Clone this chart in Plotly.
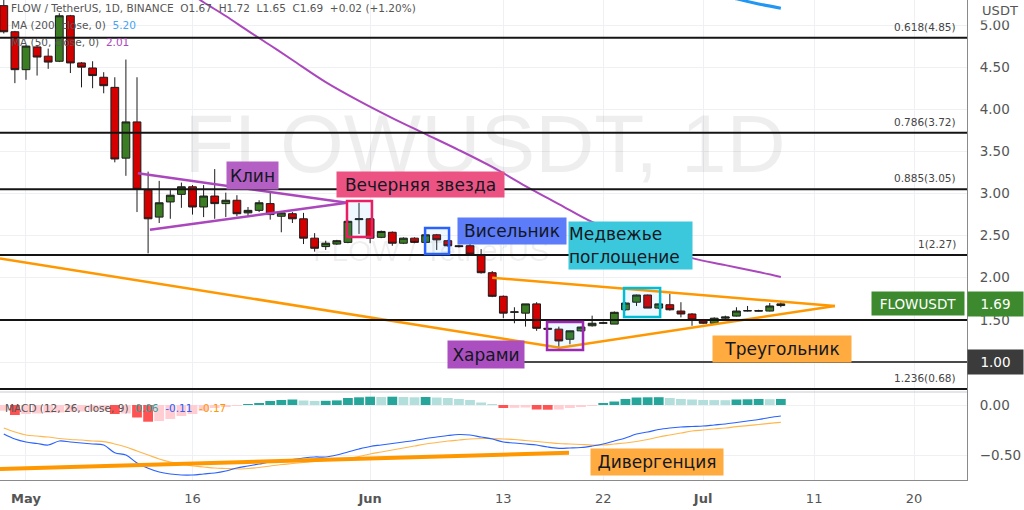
import plotly.graph_objects as go
from plotly.subplots import make_subplots
import pandas as pd

# ---------------- data ----------------
dates = pd.date_range("2021-04-29", "2021-07-08", freq="D")  # 71 daily candles

opens = [5.23, 4.92, 4.47, 4.74, 4.63, 4.57, 5.11, 4.55, 4.49, 4.38,
         4.26, 3.42, 3.85, 3.04, 2.72, 2.90, 2.99, 3.08, 2.84, 2.97,
         2.88, 2.92, 2.77, 2.80, 2.88, 2.73, 2.76, 2.70, 2.47, 2.37,
         2.40, 2.42, 2.69, 2.70, 2.48, 2.54, 2.41, 2.47, 2.42, 2.51,
         2.44, 2.38, 2.38, 2.27, 2.06, 1.78, 1.59, 1.58, 1.69, 1.40,
         1.39, 1.27, 1.37, 1.43, 1.46, 1.45, 1.62, 1.71, 1.795, 1.64,
         1.68, 1.605, 1.57, 1.49, 1.46, 1.52, 1.545, 1.605, 1.61, 1.605, 1.67]
highs = [5.30, 4.93, 4.76, 4.75, 4.72, 5.14, 5.12, 4.56, 4.57, 4.44,
         4.38, 4.59, 4.38, 3.26, 3.15, 3.04, 3.13, 3.10, 3.10, 3.29,
         3.01, 2.98, 2.84, 2.92, 3.01, 2.79, 2.78, 2.77, 2.53, 2.44,
         2.45, 2.68, 2.89, 2.71, 2.56, 2.55, 2.48, 2.48, 2.51, 2.52,
         2.45, 2.39, 2.42, 2.34, 2.08, 1.79, 1.65, 1.69, 1.71, 1.41,
         1.42, 1.37, 1.42, 1.55, 1.48, 1.60, 1.71, 1.80, 1.80, 1.69,
         1.81, 1.71, 1.58, 1.50, 1.53, 1.55, 1.65, 1.665, 1.62, 1.70, 1.72]
lows = [4.90, 4.31, 4.35, 4.40, 4.48, 4.56, 4.43, 4.26, 4.25, 4.19,
        3.37, 3.21, 2.78, 2.29, 2.65, 2.70, 2.83, 2.75, 2.72, 2.70,
        2.72, 2.73, 2.72, 2.78, 2.69, 2.54, 2.65, 2.40, 2.31, 2.33,
        2.39, 2.41, 2.52, 2.41, 2.47, 2.38, 2.40, 2.41, 2.41, 2.33,
        2.37, 2.36, 2.28, 2.05, 1.77, 1.52, 1.46, 1.42, 1.37, 1.385,
        1.15, 1.21, 1.36, 1.42, 1.45, 1.45, 1.61, 1.665, 1.64, 1.63,
        1.61, 1.53, 1.43, 1.45, 1.45, 1.51, 1.54, 1.60, 1.60, 1.60, 1.65]
closes = [4.92, 4.47, 4.75, 4.62, 4.56, 5.11, 4.55, 4.50, 4.40, 4.28,
          3.41, 3.85, 3.05, 2.70, 2.89, 2.98, 3.08, 2.84, 2.97, 2.88,
          2.92, 2.76, 2.80, 2.89, 2.75, 2.77, 2.70, 2.47, 2.35, 2.41,
          2.44, 2.67, 2.70, 2.47, 2.55, 2.41, 2.47, 2.42, 2.51, 2.45,
          2.38, 2.37, 2.28, 2.06, 1.78, 1.58, 1.595, 1.69, 1.40, 1.39,
          1.25, 1.37, 1.415, 1.46, 1.465, 1.59, 1.70, 1.795, 1.64, 1.69,
          1.62, 1.57, 1.50, 1.46, 1.52, 1.535, 1.605, 1.61, 1.605, 1.665, 1.69]

ma50_dates = ["2021-05-16", "2021-05-17", "2021-05-19", "2021-05-21", "2021-05-23",
              "2021-05-25", "2021-05-28", "2021-05-31", "2021-06-03", "2021-06-06",
              "2021-06-09", "2021-06-12", "2021-06-15", "2021-06-18", "2021-06-21",
              "2021-06-24", "2021-06-27", "2021-06-30", "2021-07-03", "2021-07-06",
              "2021-07-08"]
ma50_vals = [5.36, 5.27, 5.107, 4.93, 4.76, 4.585, 4.323, 4.10, 3.896, 3.706,
             3.516, 3.315, 3.089, 2.875, 2.662, 2.51, 2.353, 2.233, 2.15, 2.068, 2.01]

ma200_dates = ["2021-06-30", "2021-07-02", "2021-07-04", "2021-07-06", "2021-07-08"]
ma200_vals = [5.45, 5.38, 5.31, 5.25, 5.20]

macd_vals = [-0.29, -0.34, -0.37, -0.385, -0.40, -0.36, -0.37, -0.38, -0.39, -0.40,
             -0.477, -0.50, -0.58, -0.633, -0.67, -0.69, -0.70, -0.70, -0.69, -0.68,
             -0.66, -0.63, -0.61, -0.59, -0.57, -0.56, -0.545, -0.53, -0.52, -0.52,
             -0.50, -0.47, -0.44, -0.415, -0.40, -0.385, -0.37, -0.355, -0.335, -0.32,
             -0.305, -0.295, -0.30, -0.32, -0.34, -0.37, -0.38, -0.39, -0.40, -0.42,
             -0.433, -0.43, -0.425, -0.41, -0.39, -0.36, -0.33, -0.29, -0.27, -0.245,
             -0.23, -0.22, -0.215, -0.21, -0.20, -0.19, -0.175, -0.16, -0.145, -0.125, -0.11]
signal_vals = [-0.23, -0.27, -0.30, -0.31, -0.32, -0.335, -0.345, -0.35, -0.36, -0.367,
               -0.39, -0.42, -0.46, -0.50, -0.54, -0.57, -0.59, -0.61, -0.62, -0.63,
               -0.635, -0.64, -0.635, -0.625, -0.61, -0.595, -0.585, -0.575, -0.565, -0.555,
               -0.55, -0.535, -0.515, -0.49, -0.47, -0.45, -0.43, -0.41, -0.39, -0.375,
               -0.36, -0.35, -0.34, -0.335, -0.335, -0.34, -0.345, -0.355, -0.365, -0.375,
               -0.385, -0.39, -0.395, -0.40, -0.40, -0.39, -0.38, -0.365, -0.345, -0.32,
               -0.30, -0.28, -0.26, -0.25, -0.24, -0.23, -0.217, -0.207, -0.195, -0.183, -0.173]
hist_vals = [-0.057, -0.10, -0.09, -0.085, -0.08, -0.075, -0.07, -0.065, -0.06, -0.055,
             -0.09, -0.085, -0.125, -0.167, -0.16, -0.14, -0.11, -0.09, -0.06, -0.03,
             -0.015, -0.005, 0.004, 0.02, 0.04, 0.05, 0.055, 0.045, 0.04, 0.042,
             0.046, 0.07, 0.077, 0.083, 0.08, 0.083, 0.08, 0.077, 0.08, 0.075,
             0.07, 0.06, 0.05, 0.025, 0.003, -0.03, -0.028, -0.025, -0.045, -0.047,
             -0.045, -0.03, -0.02, -0.005, 0.02, 0.035, 0.06, 0.075, 0.077, 0.078,
             0.07, 0.06, 0.055, 0.05, 0.049, 0.048, 0.055, 0.057, 0.06, 0.058, 0.06]

price_ticks = [1.0, 1.5, 2.0, 2.5, 3.0, 3.5, 4.0, 4.5, 5.0]
macd_ticks = [0.0, -0.5]
date_ticks = ["2021-05-01", "2021-05-16", "2021-06-01", "2021-06-13",
              "2021-06-22", "2021-07-01", "2021-07-11", "2021-07-20"]
date_labels = ["<b>May</b>", "16", "<b>Jun</b>", "13", "22", "<b>Jul</b>", "11", "20"]

fib_levels = [4.85, 3.72, 3.05, 2.27, 0.68]
fib_names = ["0.618(4.85)", "0.786(3.72)", "0.885(3.05)", "1(2.27)", "1.236(0.68)"]
support_level = 1.50
round_level = 1.00
last_price = 1.69

# drawings (in data coordinates)
wedge_upper = (["2021-05-11 02:00", "2021-05-29 22:00"], [3.24, 2.89])
wedge_lower = (["2021-05-12 04:00", "2021-05-29 22:00"], [2.57, 2.89])
tri_lower = (["2021-04-28 15:48", "2021-06-18 02:30", "2021-07-12 21:00"], [2.23, 1.17, 1.665])
tri_upper = (["2021-06-12 00:00", "2021-07-12 21:00"], [2.00, 1.665])
diverg = (["2021-04-28 15:48", "2021-06-18 22:00"], [-0.64, -0.477])

X_RANGE = ["2021-04-28 15:48", "2021-07-24 18:29"]
Y_RANGE = [0.644, 5.297]
M_RANGE = [-0.75, 0.13]

# ---------------- figure ----------------
FONT = "DejaVu Sans"
GRID = "#eef0f4"
AXC = "#555555"
fig = make_subplots(rows=2, cols=1, shared_xaxes=True, vertical_spacing=0,
                    row_heights=[392, 88])

# watermark (drawn first so it sits beneath the candles)
fig.add_trace(go.Scatter(x=["2021-06-11 08:30"], y=[3.50], mode="text",
                         text=["FLOWUSDT, 1D"],
                         textfont=dict(size=82, color="rgba(0,0,0,0.065)", family="Liberation Sans"),
                         hoverinfo="skip", showlegend=False), row=1, col=1)
fig.add_trace(go.Scatter(x=["2021-06-06 12:00"], y=[2.29], mode="text",
                         text=["FLOW / TetherUS"],
                         textfont=dict(size=30, color="rgba(0,0,0,0.065)", family="Liberation Sans"),
                         hoverinfo="skip", showlegend=False), row=1, col=1)

fig.add_trace(go.Candlestick(
    x=dates, open=opens, high=highs, low=lows, close=closes,
    increasing=dict(line=dict(color="#1c1c1c", width=1), fillcolor="#3a7d22"),
    decreasing=dict(line=dict(color="#1c1c1c", width=1), fillcolor="#d40000"),
    whiskerwidth=0, hoverinfo="skip", showlegend=False), row=1, col=1)

fig.add_trace(go.Scatter(x=ma50_dates, y=ma50_vals, mode="lines",
                         line=dict(color="#ab47bc", width=2, shape="spline"),
                         hoverinfo="skip", showlegend=False), row=1, col=1)
fig.add_trace(go.Scatter(x=ma200_dates, y=ma200_vals, mode="lines",
                         line=dict(color="#2196f3", width=3, shape="spline"),
                         hoverinfo="skip", showlegend=False), row=1, col=1)

# trend drawings
for (xs, ys), col, w in [(wedge_upper, "#ab47bc", 2.5), (wedge_lower, "#ab47bc", 2.5),
                         (tri_lower, "#ff9800", 2.5), (tri_upper, "#ff9800", 2.5)]:
    fig.add_trace(go.Scatter(x=xs, y=ys, mode="lines", line=dict(color=col, width=w),
                             hoverinfo="skip", showlegend=False), row=1, col=1)

# MACD pane
hist_colors = []
for i, h in enumerate(hist_vals):
    prev = hist_vals[i - 1] if i > 0 else h
    if h >= 0:
        hist_colors.append("#26a69a" if h >= prev else "#b2dfdb")
    else:
        hist_colors.append("#ff5252" if h < prev else "#ffcdd2")
fig.add_trace(go.Bar(x=dates, y=hist_vals, marker=dict(color=hist_colors, line=dict(width=0)),
                     hoverinfo="skip", showlegend=False), row=2, col=1)
fig.add_trace(go.Scatter(x=dates, y=signal_vals, mode="lines",
                         line=dict(color="#ffb74d", width=1.2, shape="spline"),
                         hoverinfo="skip", showlegend=False), row=2, col=1)
fig.add_trace(go.Scatter(x=dates, y=macd_vals, mode="lines",
                         line=dict(color="#2962ff", width=1.2, shape="spline"),
                         hoverinfo="skip", showlegend=False), row=2, col=1)
fig.add_trace(go.Scatter(x=diverg[0], y=diverg[1], mode="lines",
                         line=dict(color="#ff9800", width=4),
                         hoverinfo="skip", showlegend=False), row=2, col=1)

shapes = []
for lv in fib_levels + [support_level]:
    shapes.append(dict(type="line", xref="x domain", yref="y", x0=0, x1=1, y0=lv, y1=lv,
                       line=dict(color="#141414", width=2)))
shapes.append(dict(type="line", xref="x", yref="y", x0="2021-06-12 00:00", x1=X_RANGE[1],
                   y0=round_level, y1=round_level, line=dict(color="#4a4a4a", width=2)))
# pane separator
shapes.append(dict(type="line", xref="paper", yref="paper", x0=0, x1=1, y0=88 / 480, y1=88 / 480,
                   line=dict(color="#c8cbd2", width=1)))

# highlight boxes around patterns
boxes = [
    ("2021-05-29 22:00", "2021-06-01 04:00", 2.484, 2.911, "#e91e63", "rgba(33,150,243,0.07)"),
    ("2021-06-05 22:50", "2021-06-08 02:40", 2.282, 2.591, "#2962ff", "rgba(33,150,243,0.07)"),
    ("2021-06-23 21:00", "2021-06-27 03:00", 1.534, 1.878, "#00bcd4", "rgba(33,150,243,0.07)"),
    ("2021-06-16 22:30", "2021-06-20 04:20", 1.142, 1.475, "#9c27b0", "rgba(33,150,243,0.07)"),
]
for x0, x1, y0, y1, lc, fc in boxes:
    shapes.append(dict(type="rect", xref="x", yref="y", x0=x0, x1=x1, y0=y0, y1=y1,
                       line=dict(color=lc, width=2.5), fillcolor=fc))

ann = []
labels = [
    ("Клин", "2021-05-21 10:00", 3.208, 51, 27, "#b45fc4", "y"),
    ("Вечерняя звезда", "2021-06-05 13:00", 3.107, 167, 25, "#ec5383", "y"),
    ("Висельник", "2021-06-13 19:00", 2.555, 108, 26, "#5c7cfa", "y"),
    ("Медвежье<br>поглощение", "2021-06-24 11:00", 2.383, 123, 47, "#3cc8dc", "y"),
    ("Харами", "2021-06-11 10:30", 1.089, 76, 27, "#ab4fc0", "y"),
    ("Треугольник", "2021-07-08 02:30", 1.154, 138, 26, "#ffab40", "y"),
    ("Дивергенция", "2021-06-26 20:30", -0.57, 132, 26, "#ffab40", "y2"),
]
for txt, x, y, w, h, bg, yr in labels:
    ann.append(dict(text=txt, x=x, y=y, xref="x", yref=yr, showarrow=False,
                    xanchor="center", yanchor="middle",
                    width=w, height=h, bgcolor=bg, borderpad=0,
                    align="left" if "<br>" in txt else "center",
                    font=dict(family=FONT, size=17, color="#131722")))

for lv, nm in zip(fib_levels, fib_names):
    ann.append(dict(text=nm, x=958 / 967, y=lv, xref="paper", yref="y", xanchor="right",
                    yanchor="bottom", yshift=3, showarrow=False,
                    font=dict(family=FONT, size=10.5, color="#444444")))

# price labels on the axis
ann.append(dict(text="1.69", x=1, y=last_price, xref="paper", yref="y", xanchor="left",
                yanchor="middle", showarrow=False, width=55, height=24, bgcolor="#3d8a2e",
                borderpad=0, font=dict(family=FONT, size=13.5, color="white")))
ann.append(dict(text="FLOWUSDT", x=965 / 967, y=last_price, xref="paper", yref="y",
                xanchor="right", yanchor="middle", showarrow=False, width=92, height=23,
                bgcolor="#3d8a2e", borderpad=0, font=dict(family=FONT, size=13.5, color="white")))
ann.append(dict(text="1.00", x=1, y=round_level, xref="paper", yref="y", xanchor="left",
                yanchor="middle", showarrow=False, width=55, height=24, bgcolor="#3b3b3b",
                borderpad=0, font=dict(family=FONT, size=13.5, color="white")))
ann.append(dict(text="USDT", x=1000 / 967, y=(480 - 10) / 480, xref="paper", yref="paper",
                xanchor="center", yanchor="middle", showarrow=False, width=54, height=19,
                bgcolor="white", borderpad=0, font=dict(family=FONT, size=13, color="#555555")))

# legends
legend_rows = [
    ("FLOW / TetherUS, 1D, BINANCE  O1.67  H1.72  L1.65  C1.69  +0.02 (+1.20%)", 9, 8),
    ("MA (200, close, 0)  <span style='color:#42a5f5'>5.20</span>", 9, 25),
    ("MA (50, close, 0)  <span style='color:#ab47bc'>2.01</span>", 9, 42),
    ("MACD (12, 26, close, 9)  <span style='color:#26a69a'>0.06</span>  "
     "<span style='color:#2962ff'>-0.11</span>  <span style='color:#ff9800'>-0.17</span>", 3, 408),
]
for txt, px, py in legend_rows:
    ann.append(dict(text=txt, x=px / 967, y=(480 - py) / 480, xref="paper", yref="paper",
                    xanchor="left", yanchor="middle", showarrow=False,
                    font=dict(family=FONT, size=10.5, color="#555555")))

fig.update_layout(
    width=1024, height=510, margin=dict(l=0, r=57, t=0, b=30),
    paper_bgcolor="white", plot_bgcolor="white", showlegend=False,
    bargap=0.12, boxgap=0.3, boxgroupgap=0.0, hovermode=False,
    shapes=shapes, annotations=ann,
    font=dict(family=FONT, color=AXC),
)
fig.update_xaxes(type="date", range=X_RANGE, tickvals=date_ticks, ticktext=date_labels,
                 showgrid=True, gridcolor=GRID, gridwidth=1, zeroline=False,
                 rangeslider_visible=False, ticks="")
fig.update_xaxes(showticklabels=False, row=1, col=1)
fig.update_xaxes(showticklabels=True, showline=True, linecolor="#8a8a8a", linewidth=1,
                 tickfont=dict(family=FONT, size=13, color=AXC), ticklabelstandoff=6, row=2, col=1)
fig.update_yaxes(side="right", showgrid=True, gridcolor=GRID, zeroline=False, showline=True,
                 linecolor="#8a8a8a", linewidth=1, ticks="", ticklabelstandoff=9,
                 tickfont=dict(family=FONT, size=13.5, color=AXC))
fig.update_yaxes(range=Y_RANGE, tickvals=price_ticks,
                 ticktext=["%.2f" % v for v in price_ticks], domain=[88 / 480, 1], row=1, col=1)
fig.update_yaxes(range=M_RANGE, tickvals=macd_ticks,
                 ticktext=["0.00", "\u22120.50"], domain=[0, 88 / 480], row=2, col=1)

fig.write_html("out.html", include_plotlyjs=True, config={"displayModeBar": False},
               post_script="document.body.style.margin='0';document.body.style.overflow='hidden';")
